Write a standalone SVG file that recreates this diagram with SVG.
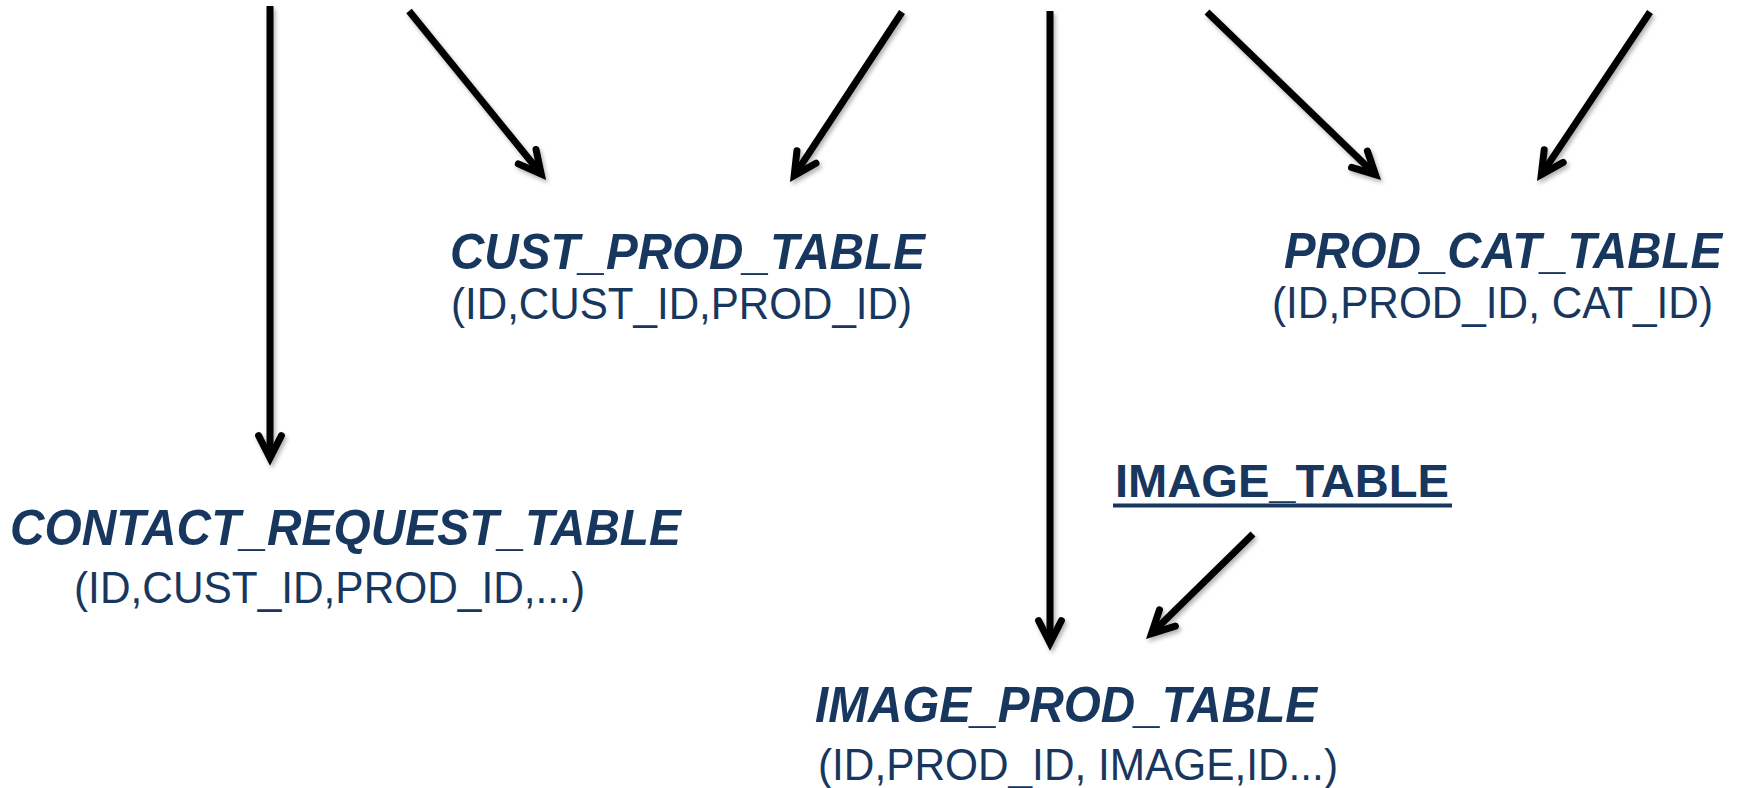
<svg xmlns="http://www.w3.org/2000/svg" width="1744" height="788" viewBox="0 0 1744 788">
<style>
.head{font-family:"Liberation Sans",Arial,sans-serif;font-weight:bold;font-style:italic;font-size:50px;fill:#17375E}
.plain{font-family:"Liberation Sans",Arial,sans-serif;font-weight:bold;font-size:47px;fill:#17375E}
.sub{font-family:"Liberation Sans",Arial,sans-serif;font-size:44px;fill:#17375E}
.arrow{stroke:#000;stroke-width:7;fill:none;stroke-linecap:butt;marker-end:url(#open)}
</style>
<defs>
<marker id="open" markerUnits="userSpaceOnUse" orient="auto" refX="0" refY="0" markerWidth="60" markerHeight="60" viewBox="-40 -30 60 60" overflow="visible">
<path d="M-22.3,-11.4 L0,0 L-22.3,11.4" fill="none" stroke="#000" stroke-width="7" stroke-linecap="round" stroke-linejoin="miter" stroke-miterlimit="10"/>
</marker>
<filter id="shadow" x="-20%" y="-20%" width="140%" height="140%">
<feDropShadow dx="2" dy="3" stdDeviation="2" flood-color="#000" flood-opacity="0.3"/>
</filter>
</defs>
<rect width="1744" height="788" fill="#fff"/>
<g id="connectors" filter="url(#shadow)">
<line class="arrow" x1="270" y1="6" x2="270" y2="458"/>
<line class="arrow" x1="409" y1="11" x2="541.2" y2="174"/>
<line class="arrow" x1="902" y1="12" x2="794.2" y2="175.6"/>
<line class="arrow" x1="1050" y1="11" x2="1050" y2="643"/>
<line class="arrow" x1="1207" y1="12" x2="1375.5" y2="174.7"/>
<line class="arrow" x1="1650" y1="12" x2="1541.3" y2="174.6"/>
<line class="arrow" x1="1253" y1="534" x2="1151.5" y2="633.6"/>
</g>
<g id="cust_prod_table">
<text class="head" x="450" y="269" textLength="475" lengthAdjust="spacingAndGlyphs">CUST_PROD_TABLE</text>
<text class="sub" x="451" y="319" textLength="461" lengthAdjust="spacingAndGlyphs">(ID,CUST_ID,PROD_ID)</text>
</g>
<g id="prod_cat_table">
<text class="head" x="1284" y="268" textLength="438" lengthAdjust="spacingAndGlyphs">PROD_CAT_TABLE</text>
<text class="sub" x="1272" y="318" textLength="441" lengthAdjust="spacingAndGlyphs">(ID,PROD_ID, CAT_ID)</text>
</g>
<g id="contact_request_table">
<text class="head" x="10" y="545" textLength="671" lengthAdjust="spacingAndGlyphs">CONTACT_REQUEST_TABLE</text>
<text class="sub" x="74" y="603" textLength="511" lengthAdjust="spacingAndGlyphs">(ID,CUST_ID,PROD_ID,...)</text>
</g>
<g id="image_table">
<text class="plain" x="1115" y="497" textLength="334" lengthAdjust="spacingAndGlyphs">IMAGE_TABLE</text>
<line x1="1113" y1="505.5" x2="1452" y2="505.5" stroke="#17375E" stroke-width="4"/>
</g>
<g id="image_prod_table">
<text class="head" x="815" y="722" textLength="502" lengthAdjust="spacingAndGlyphs">IMAGE_PROD_TABLE</text>
<text class="sub" x="818" y="780" textLength="520" lengthAdjust="spacingAndGlyphs">(ID,PROD_ID, IMAGE,ID...)</text>
</g>
</svg>
